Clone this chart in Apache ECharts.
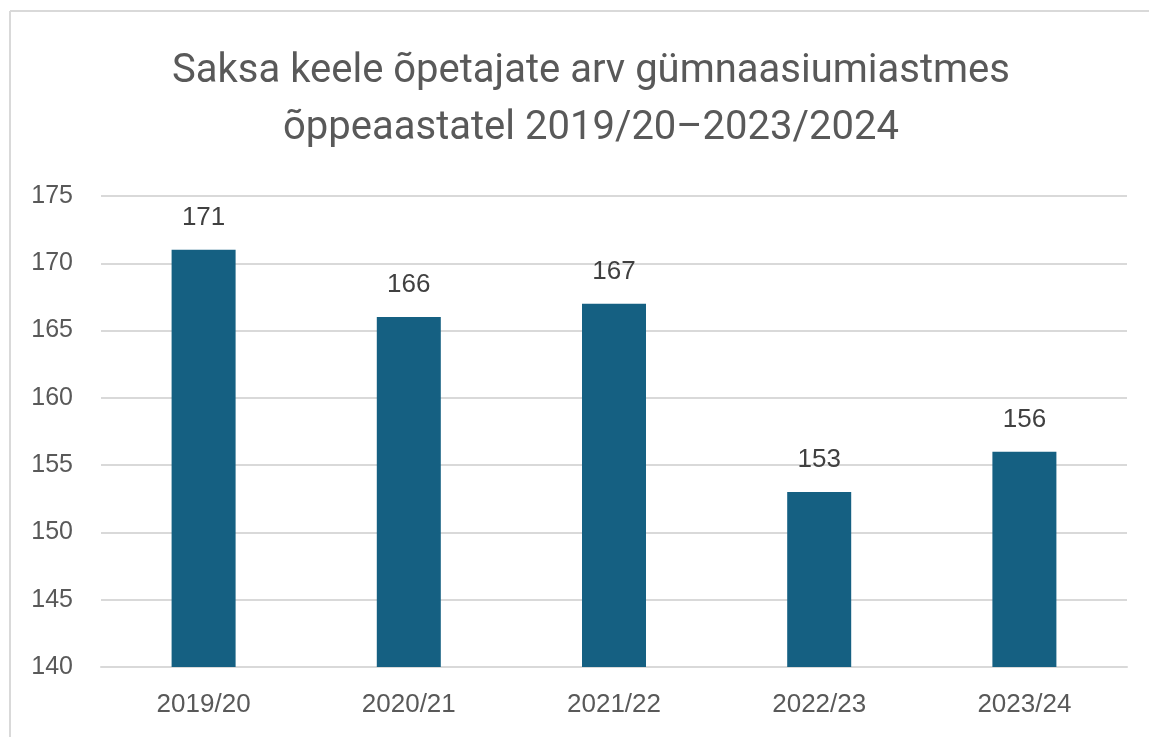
<!DOCTYPE html>
<html>
<head>
<meta charset="utf-8">
<script src="https://cdn.jsdelivr.net/npm/echarts@6/dist/echarts.min.js"></script>
<style>
html,body{margin:0;padding:0;background:#fff;}
#c{width:1149px;height:737px;}
</style>
</head>
<body>
<div id="c"></div>
<script>
const categories = ['2019/20', '2020/21', '2021/22', '2022/23', '2023/24'];
const values = [171, 166, 167, 153, 156];
const titleText = 'Saksa keele õpetajate arv gümnaasiumiastmes\nõppeaastatel 2019/20–2023/2024';
const yMin = 140, yMax = 175, yStep = 5;

const chart = echarts.init(document.getElementById('c'));
chart.setOption({
  backgroundColor: '#ffffff',
  animation: false,
  title: {
    text: titleText,
    left: 586,
    textAlign: 'center',
    top: 38,
    textStyle: {
      fontFamily: 'Roboto',
      fontSize: 40,
      fontWeight: 'normal',
      color: '#595959',
      lineHeight: 57
    }
  },
  graphic: [
    { type: 'line', shape: { x1: 10, y1: 11, x2: 1149, y2: 11 }, style: { stroke: '#d9d9d9', lineWidth: 2 } },
    { type: 'line', shape: { x1: 10, y1: 11, x2: 10, y2: 737 }, style: { stroke: '#d9d9d9', lineWidth: 2 } }
  ],
  grid: { left: 101, right: 22, top: 196, bottom: 70, containLabel: false },
  xAxis: {
    type: 'category',
    data: categories,
    axisLine: { show: true, lineStyle: { color: '#d9d9d9', width: 2 } },
    axisTick: { show: false },
    axisLabel: { color: '#595959', fontSize: 26, fontFamily: 'Liberation Sans', margin: 25 }
  },
  yAxis: {
    type: 'value',
    min: yMin, max: yMax, interval: yStep,
    axisLine: { show: false },
    axisTick: { show: false },
    splitLine: { lineStyle: { color: '#d9d9d9', width: 2 } },
    axisLabel: { color: '#595959', fontSize: 25, fontFamily: 'Liberation Sans', margin: 28 }
  },
  series: [{
    type: 'bar',
    data: values,
    barWidth: 64,
    itemStyle: { color: '#156082' },
    label: {
      show: true, position: 'top', distance: 19,
      color: '#404040', fontSize: 26, fontFamily: 'Liberation Sans'
    }
  }]
});
</script>
</body>
</html>
